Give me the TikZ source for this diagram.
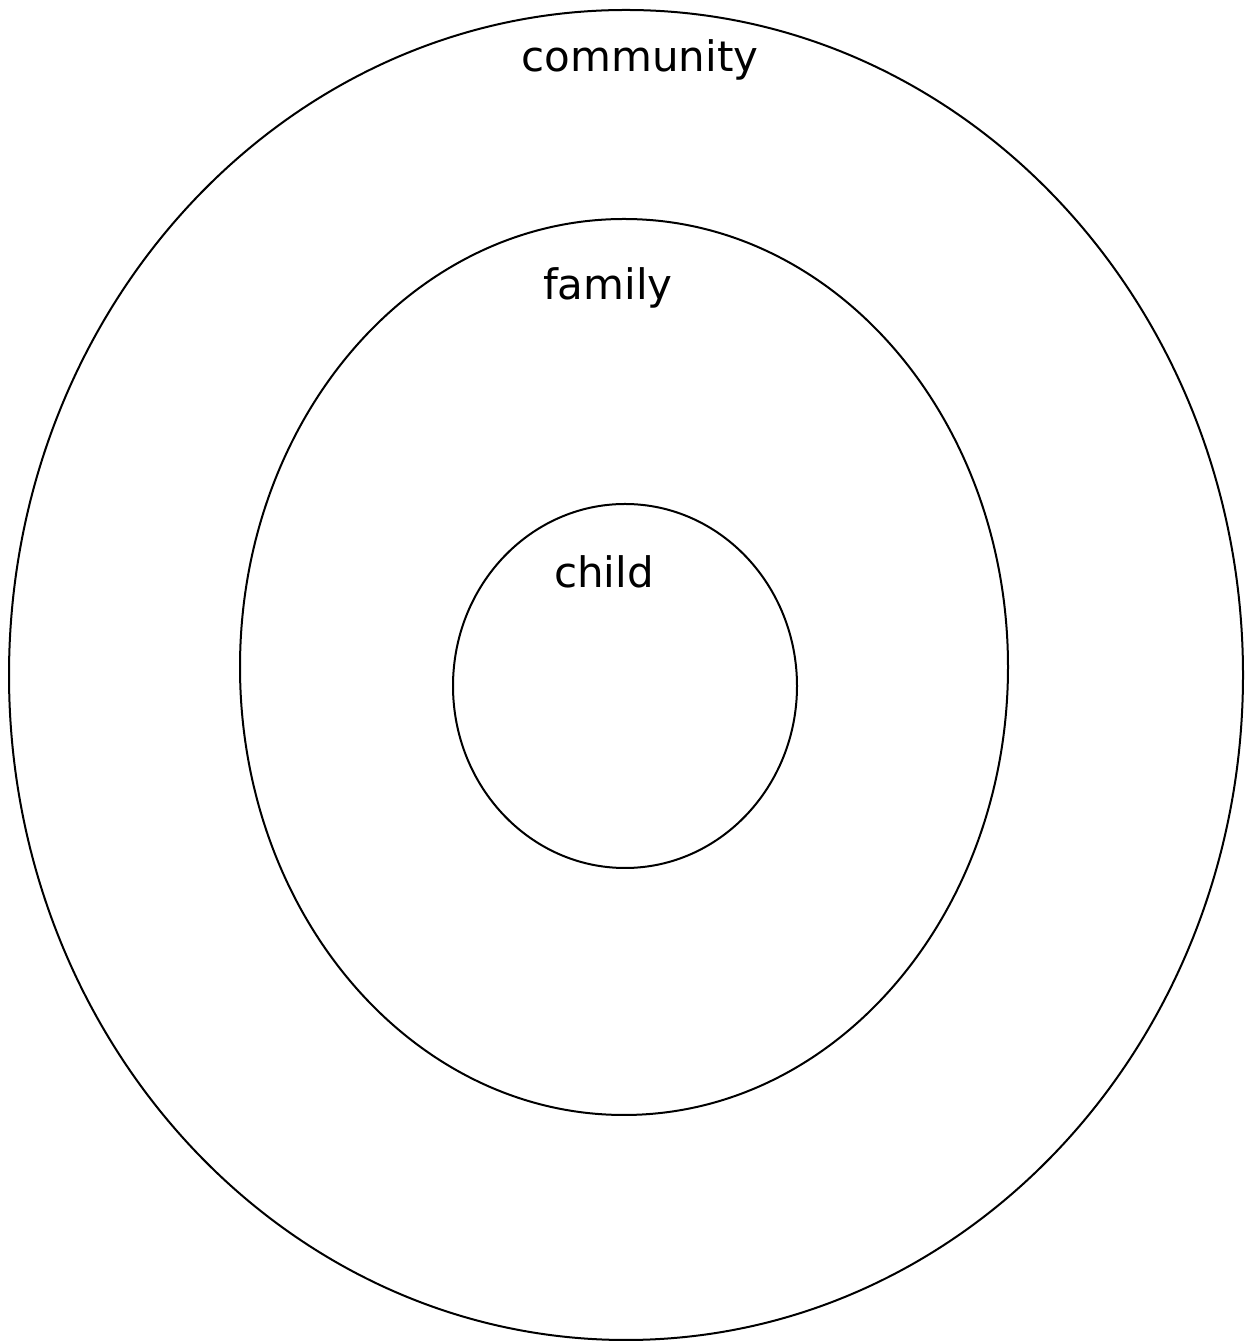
\documentclass[tikz,border=0pt]{standalone}
\usepackage{fontspec}
\setmainfont{DejaVu Sans}
\usetikzlibrary{shapes.geometric}
\begin{document}
\begin{tikzpicture}[x=1pt,y=1pt,
  ring/.style={draw=black,line width=2pt,ellipse,inner sep=0pt,minimum width=#1},
  lbl/.style={font=\fontsize{42}{48}\selectfont,text=black}]
\useasboundingbox (0,0) rectangle (1250,1344);
\node[ring=1234pt,minimum height=1330pt] (community) at (626,669) {};
\node[ring=768pt,minimum height=896pt] (family) at (624,677) {};
\node[ring=344pt,minimum height=364pt] (child) at (625,658) {};
\node[lbl] (tcommunity) at (640,1284) {community};
\node[lbl] (tfamily) at (608,1056) {family};
\node[lbl] (tchild) at (604,772) {child};
\end{tikzpicture}
\end{document}
